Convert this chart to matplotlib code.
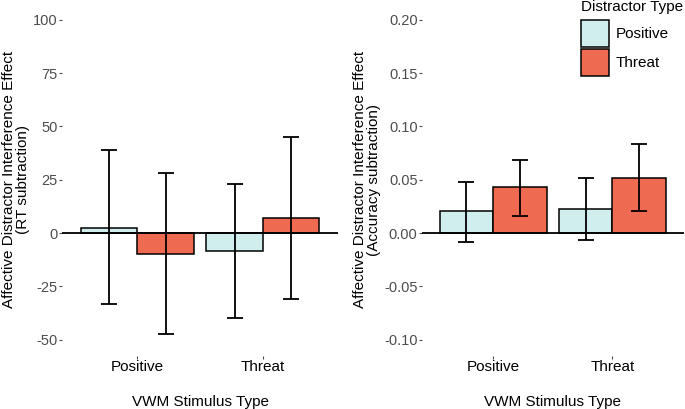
import numpy as np
import matplotlib
matplotlib.use("Agg")
import matplotlib.pyplot as plt
from matplotlib.patches import Patch

# --- Data ----------------------------------------------------------------
stimulus = ["Positive", "Threat"]
distractor = ["Positive", "Threat"]

rt_mean = {"Positive": [2.5, -8.5], "Threat": [-10.0, 7.0]}
rt_low  = {"Positive": [-33.4, -39.7], "Threat": [-47.5, -30.8]}
rt_high = {"Positive": [38.9, 22.8], "Threat": [28.0, 45.1]}

acc_mean = {"Positive": [0.0202, 0.0228], "Threat": [0.0427, 0.0518]}
acc_low  = {"Positive": [-0.0084, -0.0063], "Threat": [0.0162, 0.0209]}
acc_high = {"Positive": [0.0483, 0.0520], "Threat": [0.0689, 0.0830]}

rt_ticks = [-50, -25, 0, 25, 50, 75, 100]
acc_ticks = [-0.10, -0.05, 0.00, 0.05, 0.10, 0.15, 0.20]

# --- Style ---------------------------------------------------------------
FILL = {"Positive": "#D1EEEE", "Threat": "#EE6A50"}
GREY = "#4D4D4D"
plt.rcParams.update({"font.family": ["Liberation Sans", "DejaVu Sans"]})

W, H = 685, 409
fig = plt.figure(figsize=(W / 100, H / 100), dpi=100)

def px_axes(x0, x1, y0, y1):
    return fig.add_axes([x0 / W, 1 - y1 / H, (x1 - x0) / W, (y1 - y0) / H])

def panel(ax, means, lows, highs, ticks, fmt, ylabel):
    x = np.arange(1, len(stimulus) + 1)
    bw = 0.45
    for i, d in enumerate(distractor):
        xs = x + (i - 0.5) * bw
        m = np.array(means[d])
        ax.bar(xs, m, width=bw, color=FILL[d], edgecolor="black", lw=1.1, zorder=2)
        err = np.vstack([m - np.array(lows[d]), np.array(highs[d]) - m])
        ax.errorbar(xs, m, yerr=err, fmt="none", ecolor="black", elinewidth=1.3,
                    capsize=5.5, capthick=1.3, zorder=3)
    ax.axhline(0, color="black", lw=1.3, zorder=4)
    ax.set_xlim(0.4, 2.6)
    span = ticks[-1] - ticks[0]
    ax.set_ylim(ticks[0] - 0.05 * span, ticks[-1] + 0.05 * span)
    ax.set_xticks(x)
    ax.set_xticklabels(stimulus, fontsize=11, color="black")
    ax.set_yticks(ticks)
    ax.set_yticklabels([fmt(t) for t in ticks], fontsize=10.5, color=GREY)
    ax.tick_params(axis="both", length=2, width=0.8, color=GREY, pad=1)
    for s in ax.spines.values():
        s.set_visible(False)
    ax.set_xlabel("VWM Stimulus Type", fontsize=11, labelpad=15)
    ax.set_ylabel(ylabel, fontsize=11, linespacing=1.0, labelpad=2)
    ax.patch.set_alpha(0)

ax1 = px_axes(62, 338, 3.7, 355.7)
panel(ax1, rt_mean, rt_low, rt_high, rt_ticks, lambda t: f"{t:d}",
      "Affective Distractor Interference Effect\n(RT subtraction)")

ax2 = px_axes(421.7, 684, 3.7, 355.7)
panel(ax2, acc_mean, acc_low, acc_high, acc_ticks, lambda t: f"{t:.2f}",
      "Affective Distractor Interference Effect\n(Accuracy subtraction)")

handles = [Patch(facecolor=FILL[d], edgecolor="black", lw=1.1, label=d) for d in distractor]
leg = fig.legend(handles=handles, title="Distractor Type", loc="upper left",
                 bbox_to_anchor=(581 / W, 1 - 0 / H), frameon=False,
                 fontsize=11, title_fontsize=11, handlelength=1.8,
                 handleheight=2.4, labelspacing=0.1, handletextpad=0.45,
                 borderaxespad=0, borderpad=0.0)
leg._legend_box.align = "left"
leg._legend_box.sep = 4

fig.savefig("out.png", dpi=100)
